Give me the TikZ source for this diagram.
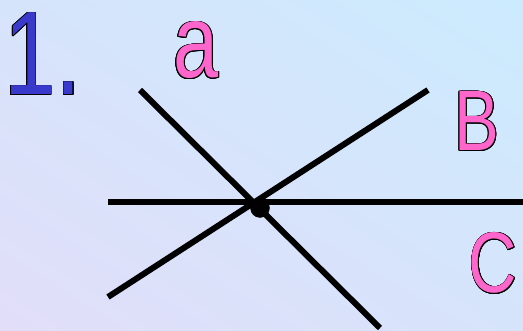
\documentclass[tikz,border=0pt]{standalone}
\usetikzlibrary{shadings}
\usepackage{fontspec}
\setmainfont{Liberation Sans}
\usepackage{contour}
\contourlength{0.9pt}
\definecolor{numblue}{HTML}{3939CC}
\definecolor{letpink}{HTML}{FF66CC}
\definecolor{bgcyan}{HTML}{CCEBFE}
\definecolor{bglav}{HTML}{E2DEF9}
\definecolor{bgmid}{HTML}{D6E4FB}
\tikzset{
  letter/.style={inner sep=0pt, anchor=base},
  line/.style={line width=6pt},
}
\newcommand{\outl}[3]{\scalebox{0.78}[1]{\fontsize{#1}{#1}\selectfont\contour{black}{\textcolor{#2}{#3}}}}
\begin{document}
\begin{tikzpicture}[x=1pt,y=-1pt]
                \shade[lower left=bglav, upper right=bgcyan, upper left=bgmid, lower right=bgmid]
                    (0,331) rectangle (523,0);
                \useasboundingbox (0,0) rectangle (523,331);

                \node[letter] (num) at (43,95) {\outl{119}{numblue}{1.}};
                \node[letter] (a) at (196,78) {\outl{104}{letpink}{a}};
                \node[letter] (b) at (477,151) {\outl{86}{letpink}{B}};
                \node[letter] (c) at (493,293) {\outl{86}{letpink}{C}};

                % the three lines through one point
                \coordinate (h1) at (108,202);
                \coordinate (h2) at (523,202);
                \coordinate (p1) at (140,90);
                \coordinate (p2) at (380,328);
                \coordinate (q1) at (108,297);
                \coordinate (q2) at (428,90);
                \draw[line] (h1) -- (h2);
                \draw[line] (p1) -- (p2);
                \draw[line] (q1) -- (q2);

                \filldraw[black] (260,208) circle (9.5);
            \end{tikzpicture}
\end{document}
